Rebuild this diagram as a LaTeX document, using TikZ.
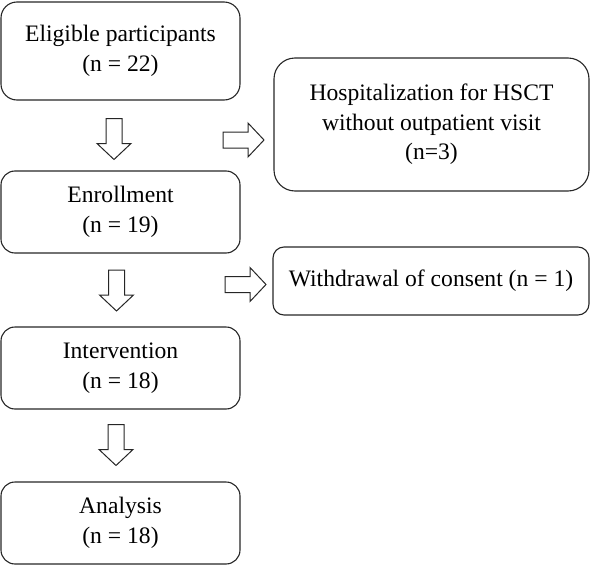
\documentclass[tikz,border=0pt]{standalone}
\usepackage{fontspec}
\setmainfont{Liberation Serif}
\begin{document}
\begin{tikzpicture}[x=1pt,y=1pt,
  box/.style={draw=black!85, line width=1.1pt, rectangle, align=center,
    font=\fontsize{23.6}{29.5}\selectfont, inner sep=2pt},
  arrowline/.style={draw=black!85, line width=1pt, fill=white},
  blockarr/.pic={\path[arrowline] (-20.5,-8) -- (4.5,-8) -- (4.5,-17) -- (20.5,0) -- (4.5,17) -- (4.5,8) -- (-20.5,8) -- cycle;}
]
\useasboundingbox (0,0) rectangle (590,-565);
\node[box, minimum width=239pt, minimum height=98pt, rounded corners=16pt] (elig) at (120.5,-51) {Eligible participants\\(n = 22)};
\node[box, minimum width=239pt, minimum height=82pt, rounded corners=14pt] (enrol) at (120.5,-212) {Enrollment\\(n = 19)};
\node[box, minimum width=239pt, minimum height=82pt, rounded corners=14pt] (interv) at (120.5,-368) {Intervention\\(n = 18)};
\node[box, minimum width=239pt, minimum height=82pt, rounded corners=14pt] (anal) at (120.5,-523) {Analysis\\(n = 18)};
\node[box, minimum width=315pt, minimum height=133pt, rounded corners=21pt] (hosp) at (431.5,-124.5) {Hospitalization for HSCT\\without outpatient visit\\(n=3)};
\node[box, minimum width=316pt, minimum height=68pt, rounded corners=11pt] (withd) at (431,-281) {Withdrawal of consent (n = 1)};
\pic[rotate=-90] (a1) at (114,-139) {blockarr};
\pic[rotate=-90] (a2) at (116.5,-290.5) {blockarr};
\pic[rotate=-90] (a3) at (116,-445) {blockarr};
\pic (a4) at (243.5,-140) {blockarr};
\pic (a5) at (245.5,-284.5) {blockarr};
\end{tikzpicture}
\end{document}
